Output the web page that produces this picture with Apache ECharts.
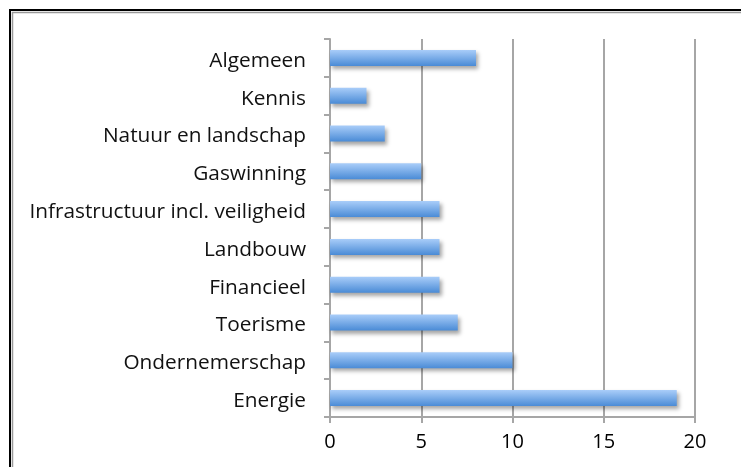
<!DOCTYPE html>
<html>
<head>
<meta charset="utf-8">
<script src="https://cdn.jsdelivr.net/npm/echarts@6/dist/echarts.min.js"></script>
<style>
html, body { margin: 0; padding: 0; background: #fff; }
#chart { width: 741px; height: 467px; }
</style>
</head>
<body>
<div id="chart"></div>
<script>
// categories top to bottom
var categories = ['Algemeen', 'Kennis', 'Natuur en landschap', 'Gaswinning',
    'Infrastructuur incl. veiligheid', 'Landbouw', 'Financieel', 'Toerisme',
    'Ondernemerschap', 'Energie'];
var values = [8, 2, 3, 5, 6, 6, 6, 7, 10, 19];
var xTicks = [0, 5, 10, 15, 20];

var myChart = echarts.init(document.getElementById('chart'));
var axisGray = '#a6a6a6';

var option = {
    animation: false,
    textStyle: { fontFamily: 'Open Sans' },
    graphic: [
        { type: 'rect', shape: { x: 10, y: 10, width: 800, height: 500 },
          style: { fill: 'none', stroke: '#000', lineWidth: 2 } },
        { type: 'rect', shape: { x: 12.5, y: 12.5, width: 800, height: 500 },
          style: { fill: 'none', stroke: '#9a9a9a', lineWidth: 1.5 } }
    ],
    grid: { left: 330, right: 46, top: 39, bottom: 50 },
    xAxis: {
        type: 'value',
        min: xTicks[0],
        max: xTicks[xTicks.length - 1],
        interval: 5,
        axisLine: { show: true, lineStyle: { color: axisGray, width: 2 } },
        axisTick: { show: true, length: 6, lineStyle: { color: axisGray, width: 2 } },
        splitLine: { show: true, lineStyle: { color: axisGray, width: 2 } },
        axisLabel: { color: '#000', fontSize: 20, margin: 15 }
    },
    yAxis: {
        type: 'category',
        inverse: true,
        data: categories,
        axisLine: { show: true, lineStyle: { color: axisGray, width: 2 } },
        axisTick: { show: true, length: 6, lineStyle: { color: axisGray, width: 2 } },
        axisLabel: {
            margin: 24,
            formatter: function (v) { return '{a|' + v + '}'; },
            rich: { a: { color: '#111', fontSize: 20.8, fontFamily: 'Open Sans', padding: [6, 0, 0, 0] } }
        }
    },
    series: [{
        type: 'bar',
        data: values,
        barWidth: 16,
        itemStyle: {
            color: new echarts.graphic.LinearGradient(0, 0, 0, 1, [
                { offset: 0, color: '#a9cdf9' },
                { offset: 1, color: '#4a8bd6' }
            ]),
            shadowColor: 'rgba(0,0,0,0.35)',
            shadowBlur: 4,
            shadowOffsetX: 2,
            shadowOffsetY: 3
        }
    }]
};
myChart.setOption(option);
</script>
</body>
</html>
